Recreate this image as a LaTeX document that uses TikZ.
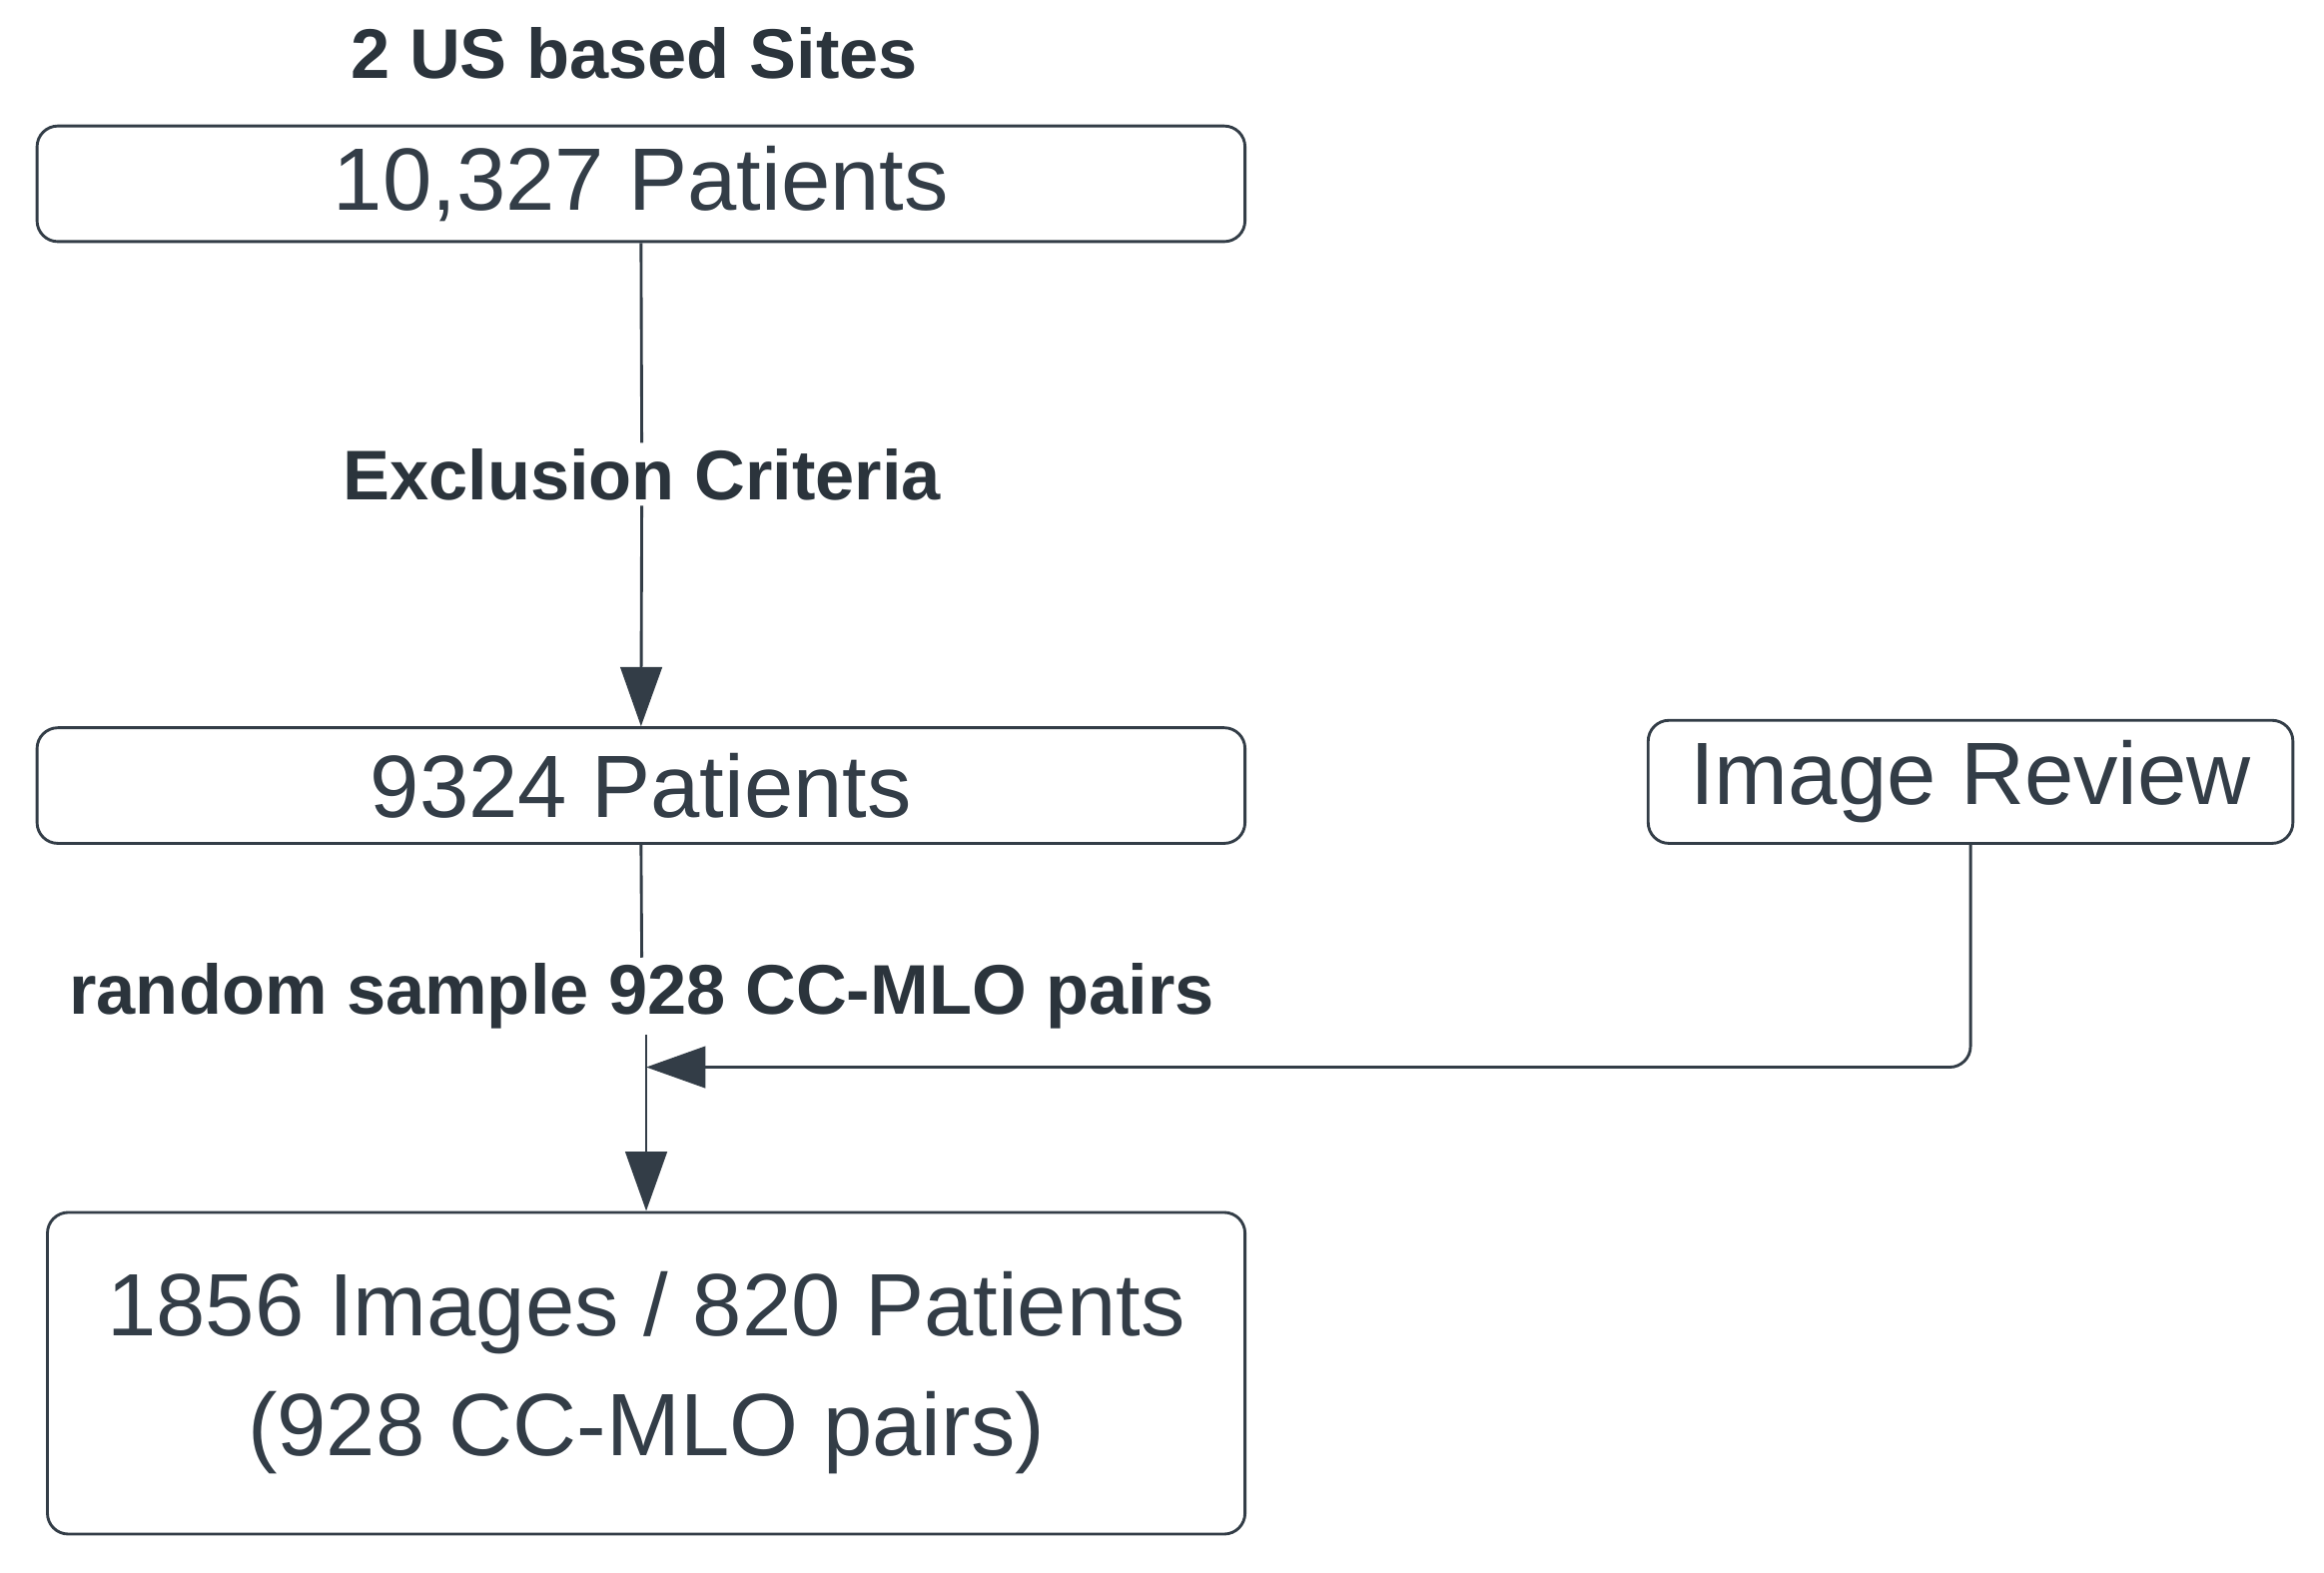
\documentclass[tikz,border=0pt]{standalone}
\usepackage{fontspec}
\setmainfont{Liberation Sans}
\usetikzlibrary{arrows.meta}
\definecolor{ink}{HTML}{333D47}
\begin{document}
\begin{tikzpicture}[x=0.02cm,y=-0.02cm,
  box/.style={draw=ink,line width=1.1pt,rounded corners=8pt,inner sep=0pt,text=ink,font=\fontsize{34}{40}\selectfont},
  lab/.style={text=ink!85!black,font=\bfseries\fontsize{27}{32}\selectfont,inner sep=2pt},
  conn/.style={draw=ink,line width=1.1pt},
  tip/.style={-{Triangle[length=0.8cm,width=0.56cm]}}]
\useasboundingbox (0,0) rectangle (1568,1061);
\node[lab] (title) at (428,36) {2 US based Sites};
\node[box,minimum width=815*0.02cm,minimum height=78*0.02cm] (b1) at (432.5,124) {10,327 Patients};
\node[lab] (ex) at (433,320) {Exclusion Criteria};
\node[box,minimum width=815*0.02cm,minimum height=78*0.02cm] (b2) at (432.5,530) {9324 Patients};
\node[box,minimum width=435*0.02cm,minimum height=83*0.02cm] (ir) at (1329.5,527.5) {Image Review};
\node[lab] (rs) at (433,672) {random sample 928 CC-MLO pairs};
\node[box,minimum width=808*0.02cm,minimum height=217*0.02cm,align=center,font=\fontsize{34}{46}\selectfont] (b4) at (436,926.5) {1856 Images / 820 Patients\\(928 CC-MLO pairs)};
\coordinate (m) at (436,720);
\draw[conn] (b1.south) -- (ex.north);
\draw[conn,tip] (ex.south) -- (b2.north);
\draw[conn] (b2.south) -- (rs.north);
\draw[conn,tip] (rs.south -| m) -- (b4.north);
\draw[conn,tip,rounded corners=8pt] (ir.south) |- (m);
\end{tikzpicture}
\end{document}
